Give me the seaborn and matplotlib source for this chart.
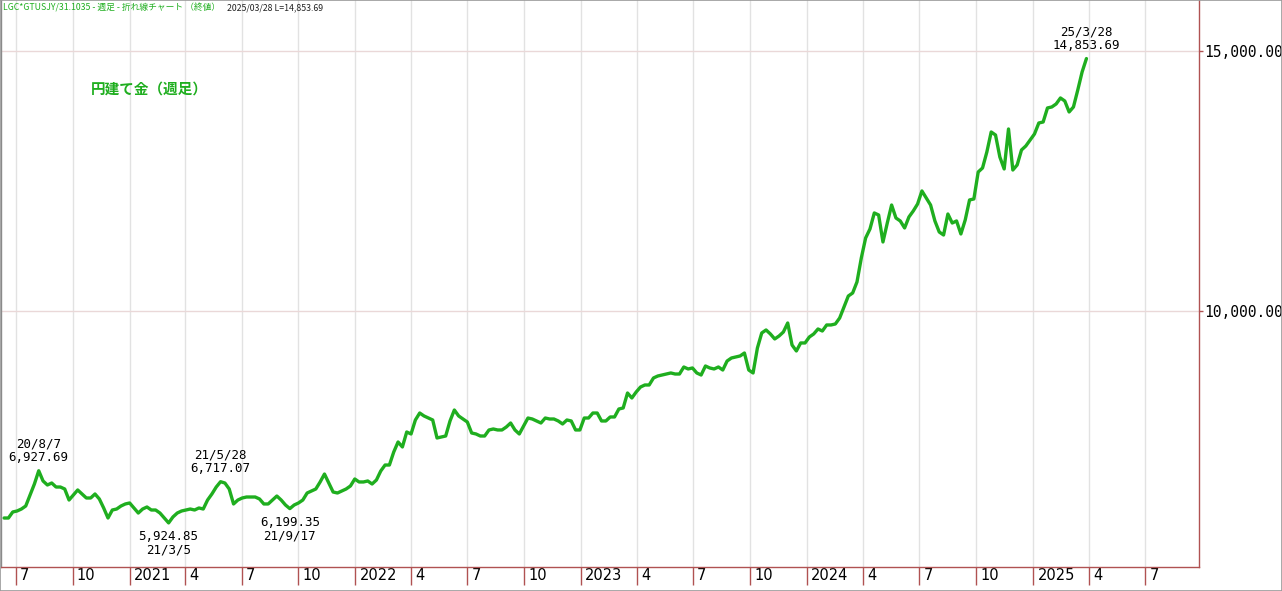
import pandas as pd
import matplotlib.pyplot as plt
import matplotlib.dates as mdates
from matplotlib.transforms import ScaledTranslation
from matplotlib.patches import Rectangle
import seaborn as sns

# --- Datos: precio del oro en yenes, cierre semanal ---
primera_semana = '2020-06-12'
precios = [
    6019, 6019, 6135, 6154, 6192, 6250, 6462, 6673, 6927.69, 6731,
    6654, 6692, 6615, 6615, 6577, 6365, 6462, 6558, 6481, 6404,
    6404, 6481, 6385, 6212, 6019, 6173, 6192, 6250, 6289, 6308,
    6212, 6115, 6192, 6231, 6173, 6173, 6115, 6019, 5924.85, 6039,
    6115, 6154, 6173, 6192, 6173, 6212, 6192, 6365, 6481, 6615,
    6717.07, 6692, 6577, 6289, 6365, 6404, 6423, 6423, 6423, 6385,
    6289, 6289, 6365, 6442, 6365, 6269, 6199.35, 6269, 6308, 6365,
    6500, 6539, 6577, 6712, 6865, 6692, 6519, 6500, 6539, 6577,
    6635, 6769, 6712, 6712, 6731, 6673, 6750, 6923, 7038, 7038,
    7288, 7481, 7385, 7673, 7635, 7904, 8038, 7981, 7942, 7904,
    7558, 7577, 7596, 7885, 8096, 7981, 7923, 7865, 7654, 7635,
    7596, 7596, 7712, 7731, 7712, 7712, 7769, 7846, 7712, 7635,
    7788, 7942, 7923, 7885, 7846, 7942, 7923, 7923, 7885, 7827,
    7904, 7885, 7712, 7712, 7942, 7942, 8038, 8038, 7885, 7885,
    7962, 7962, 8115, 8135, 8423, 8327, 8442, 8538, 8577, 8577,
    8712, 8750, 8769, 8788, 8808, 8788, 8788, 8923, 8885, 8904,
    8808, 8769, 8942, 8904, 8885, 8923, 8865, 9038, 9096, 9115,
    9135, 9192, 8865, 8808, 9288, 9577, 9635, 9558, 9462, 9519,
    9596, 9769, 9346, 9231, 9385, 9385, 9500, 9558, 9654, 9615,
    9731, 9731, 9750, 9865, 10077, 10288, 10346, 10558, 11019, 11404,
    11577, 11885, 11846, 11327, 11692, 12038, 11788, 11731, 11596, 11808,
    11923, 12058, 12308, 12173, 12038, 11731, 11519, 11461, 11865, 11692,
    11731, 11481, 11750, 12135, 12154, 12673, 12750, 13058, 13442, 13384,
    12961, 12731, 13500, 12711, 12808, 13096, 13173, 13288, 13404, 13615,
    13634, 13904, 13923, 13981, 14096, 14038, 13827, 13923, 14250, 14596,
    14853.69,
]
fechas = pd.date_range(primera_semana, periods=len(precios), freq='W-FRI')
df = pd.DataFrame({'fecha': fechas, 'precio': precios})

# Ticks trimestrales del eje X
ticks_x = ['2020-07-01', '2020-10-01', '2021-01-01', '2021-04-01', '2021-07-01',
           '2021-10-01', '2022-01-01', '2022-04-01', '2022-07-01', '2022-10-01',
           '2023-01-01', '2023-04-01', '2023-07-01', '2023-10-01', '2024-01-01',
           '2024-04-01', '2024-07-01', '2024-10-01', '2025-01-01', '2025-04-01',
           '2025-07-01']
etiquetas_x = ['7', '10', '2021', '4', '7', '10', '2022', '4', '7', '10', '2023',
               '4', '7', '10', '2024', '4', '7', '10', '2025', '4', '7']
ticks_y = [10000, 15000]

# Puntos destacados: (fecha, texto encima?)
destacados = [('2020-08-07', True), ('2021-03-05', False), ('2021-05-28', True),
              ('2021-09-17', False), ('2025-03-28', True)]

titulo = '円建て金（週足）'
cabecera = 'LGC*GTUSJY/31.1035 - 週足 - 折れ線チャート （終値）'
cabecera_fin = '2025/03/28 L=14,853.69'

# --- Configuración Visual ---
sns.set_theme(style='white')
plt.rcParams['font.family'] = ['DejaVu Sans', 'Noto Sans CJK JP']
verde = '#1fae1f'
rojo = '#b05252'

fig = plt.figure(figsize=(12.82, 5.91), dpi=100)
ax = fig.add_axes([1 / 1282, 24 / 591, 1198 / 1282, 567 / 591])

sns.lineplot(data=df, x='fecha', y='precio', ax=ax, color=verde, linewidth=2.4)

ax.set_xlim(pd.Timestamp('2020-06-07'), pd.Timestamp('2025-09-26'))
ax.set_ylim(5077, 15980)
ax.set_xlabel('')
ax.set_ylabel('')

# --- Ejes ---
ax.set_xticks(pd.to_datetime(ticks_x))
ax.set_xticklabels(etiquetas_x, ha='left', fontsize=10.5)
ax.tick_params(axis='x', direction='out', length=13, width=1, color=rojo,
               pad=-12, labelcolor='black', bottom=True)
desplazar = ScaledTranslation(3 / 72, 0, fig.dpi_scale_trans)
for lbl in ax.get_xticklabels():
    lbl.set_transform(lbl.get_transform() + desplazar)

ax.yaxis.tick_right()
ax.set_yticks(ticks_y)
ax.set_yticklabels([f'{v:,.2f}' for v in ticks_y], family='DejaVu Sans Mono', fontsize=10.5)
ax.tick_params(axis='y', direction='out', length=3, width=1, color=rojo, pad=1,
               labelcolor='black', right=True, left=False)

ax.grid(True, axis='x', color='#e2e2e2', linewidth=1)
ax.grid(True, axis='y', color='#ead8d8', linewidth=1)
ax.set_axisbelow(True)

ax.spines['top'].set_visible(False)
ax.spines['left'].set_color('#8a8a8a')
ax.spines['right'].set_color(rojo)
ax.spines['bottom'].set_color(rojo)
for s in ('left', 'right', 'bottom'):
    ax.spines[s].set_linewidth(1)

# --- Anotaciones de máximos y mínimos ---
for fecha, arriba in destacados:
    f = pd.Timestamp(fecha)
    v = df.loc[df['fecha'] == f, 'precio'].iloc[0]
    etiqueta_fecha = f'{f.year % 100}/{f.month}/{f.day}'
    etiqueta_valor = f'{v:,.2f}'
    if arriba:
        texto, dy, va = f'{etiqueta_fecha}\n{etiqueta_valor}', 5, 'bottom'
    else:
        texto, dy, va = f'{etiqueta_valor}\n{etiqueta_fecha}', -5, 'top'
    ax.annotate(texto, xy=(f, v), xytext=(0, dy), textcoords='offset points',
                ha='center', va=va, fontsize=9, family='DejaVu Sans Mono',
                linespacing=1.05, color='black')

# --- Títulos ---
ax.text(90 / 1198, 1 - 89 / 567, titulo, transform=ax.transAxes, color=verde,
        fontsize=10.5, fontweight='bold', va='center', ha='left',
        family=['Noto Sans CJK JP', 'DejaVu Sans'])
cab = ax.text(2 / 1198, 1 - 8 / 567, cabecera, transform=ax.transAxes, color=verde,
              fontsize=6.3, va='center', ha='left', family=['Noto Sans CJK JP', 'DejaVu Sans'])
ax.annotate(cabecera_fin, xy=(1, 0.5), xycoords=cab, xytext=(5, 0),
            textcoords='offset points', va='center', ha='left', fontsize=6.3,
            color='#222222', family=['Noto Sans CJK JP', 'DejaVu Sans'])

# Marco exterior
fig.patches.append(Rectangle((0, 0), 1, 1, transform=fig.transFigure, fill=False,
                             edgecolor='#9a9a9a', linewidth=1.2))

fig.savefig('out.png', dpi=100)
